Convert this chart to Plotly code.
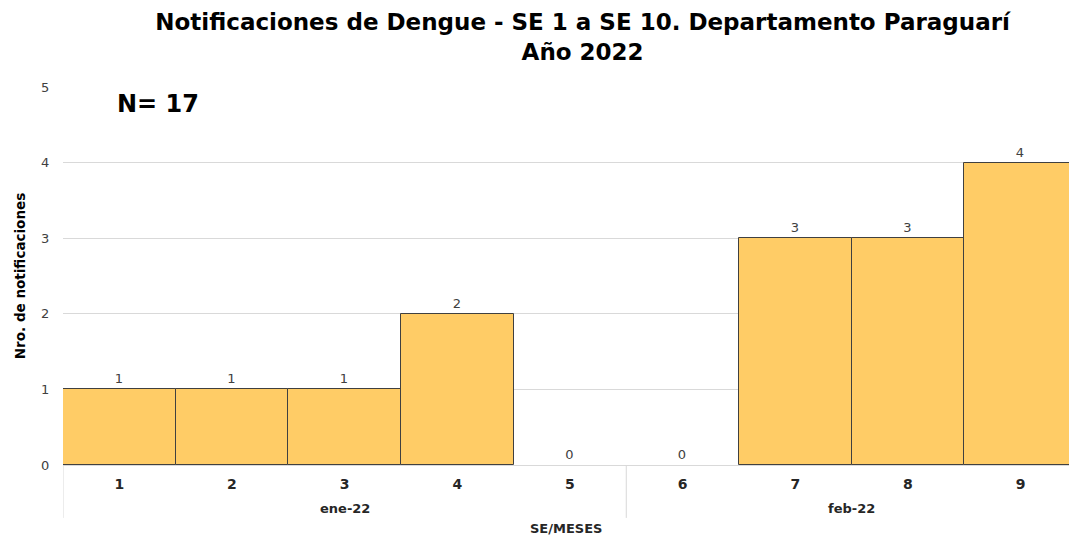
import plotly.graph_objects as go

weeks = ["1", "2", "3", "4", "5", "6", "7", "8", "9"]
months = ["ene-22", "ene-22", "ene-22", "ene-22", "ene-22", "feb-22", "feb-22", "feb-22", "feb-22"]
values = [1, 1, 1, 2, 0, 0, 3, 3, 4]
y_ticks = [0, 1, 2, 3, 4, 5]
total_n = 17

title_text = "Notificaciones de Dengue - SE 1 a SE 10. Departamento Paraguarí<br>Año 2022"
n_text = "N= " + str(total_n)

FONT = "DejaVu Sans"
idx = list(range(len(weeks)))

fig = go.Figure()
fig.add_trace(go.Bar(
    x=idx, y=values,
    marker=dict(color="#FFCC66",
                line=dict(color=["#404040" if v > 0 else "rgba(0,0,0,0)" for v in values], width=1)),
    width=1,
    text=[str(v) for v in values],
    textposition="outside",
    textfont=dict(family=FONT, size=13, color="#404040"),
    cliponaxis=False,
    hoverinfo="skip",
))

# month group labels and dividers
groups = []
for i, m in enumerate(months):
    if not groups or groups[-1][0] != m:
        groups.append([m, i, i])
    else:
        groups[-1][2] = i

annotations = []
shapes = []
for m, a, b in groups:
    annotations.append(dict(x=(a + b) / 2, y=-0.115, xref="x", yref="paper", text="<b>" + m + "</b>",
                            showarrow=False, font=dict(family=FONT, size=13, color="#262626"),
                            yanchor="middle"))
    shapes.append(dict(type="line", xref="x", yref="paper", x0=a - 0.5, x1=a - 0.5, y0=0, y1=-0.14,
                       line=dict(color="#D9D9D9", width=1)))
shapes.append(dict(type="line", xref="x", yref="paper", x0=len(weeks) - 0.5, x1=len(weeks) - 0.5,
                   y0=0, y1=-0.14, line=dict(color="#D9D9D9", width=1)))

annotations.append(dict(x=0.052, y=0.955, xref="paper", yref="paper", text="<b>" + n_text + "</b>",
                        showarrow=False, font=dict(family=FONT, size=24, color="black"),
                        xanchor="left", yanchor="middle"))
annotations.append(dict(x=0.5, y=-0.168, xref="paper", yref="paper", text="<b>SE/MESES</b>",
                        showarrow=False, font=dict(family=FONT, size=13, color="#262626"),
                        yanchor="middle"))

fig.update_layout(
    width=1069, height=535,
    margin=dict(l=63, r=0, t=87, b=70),
    paper_bgcolor="white", plot_bgcolor="white",
    bargap=0,
    showlegend=False,
    title=dict(text="<b>" + title_text + "</b>", x=0.545, xanchor="center", y=0.944, yanchor="top",
               font=dict(family=FONT, size=23, color="black")),
    xaxis=dict(
        tickmode="array", tickvals=idx, ticktext=["<b>" + w + "</b>" for w in weeks],
        range=[-0.5, 8.43],
        tickfont=dict(family=FONT, size=14, color="#262626"),
        ticks="outside", ticklen=6, tickcolor="rgba(0,0,0,0)",
        showgrid=False, showline=False, zeroline=False,
    ),
    yaxis=dict(
        range=[0, 5], tickvals=y_ticks,
        tickfont=dict(family=FONT, size=13, color="#404040"),
        ticks="outside", ticklen=10, tickcolor="rgba(0,0,0,0)",
        showgrid=True, gridcolor="#D9D9D9", gridwidth=1,
        zeroline=True, zerolinecolor="#D9D9D9", zerolinewidth=1,
        showline=False,
        title=dict(text="<b>Nro. de notificaciones</b>", font=dict(family=FONT, size=13.5, color="black"),
                   standoff=12),
    ),
    annotations=annotations,
    shapes=shapes,
)

fig.write_html("out.html", config={"displayModeBar": False},
               post_script="document.body.style.margin='0';document.body.style.overflow='hidden';")
